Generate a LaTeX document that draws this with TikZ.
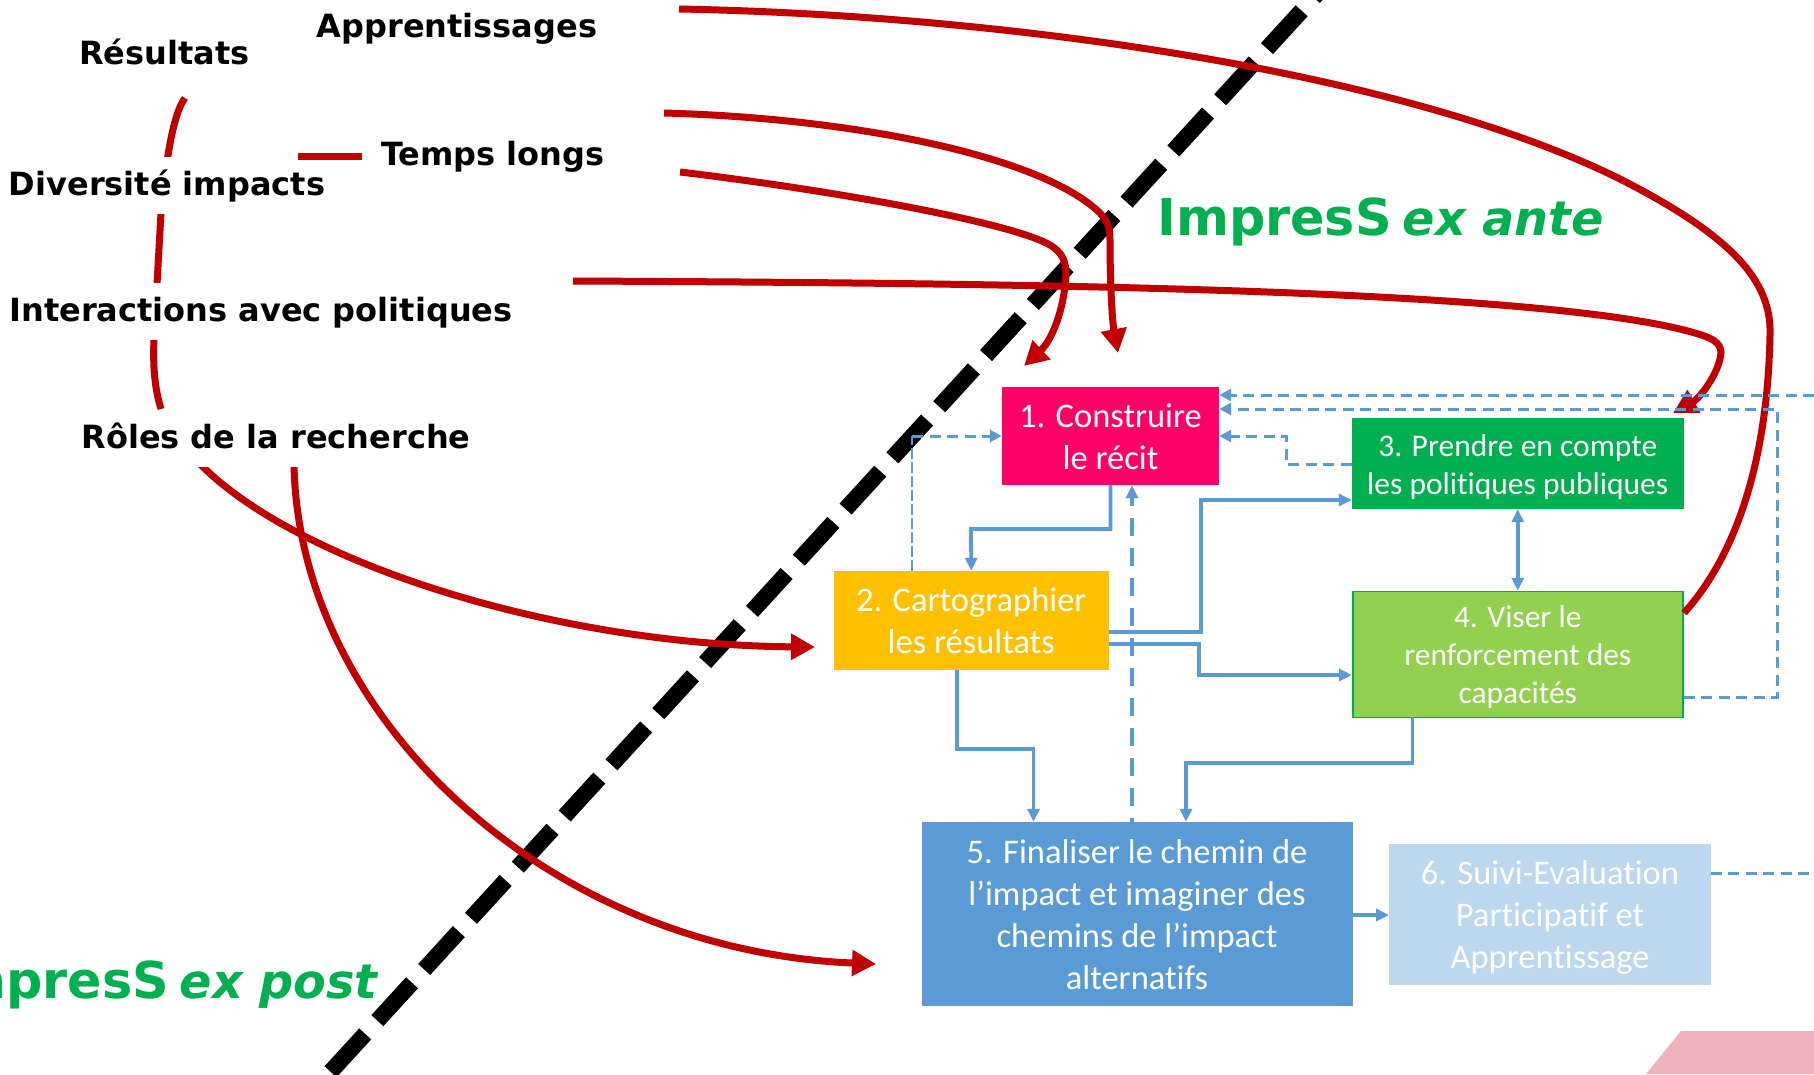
\documentclass[tikz,border=0pt]{standalone}
\usepackage{fontspec}
\setmainfont[Ligatures=NoCommon]{Carlito}
\newfontfamily\lab{DejaVu Sans}[BoldFont={DejaVu Sans Bold},BoldItalicFont={DejaVu Sans Bold Oblique}]
\usetikzlibrary{arrows.meta,calc}
\definecolor{rd}{HTML}{C00000}
\definecolor{bl}{HTML}{5B9BD5}
\definecolor{gn}{HTML}{00B050}
\newcommand{\upr}[1]{\rule{0pt}{#1pt}}
\newcommand{\bigsz}{\fontsize{50.8}{52}\selectfont}
\newcommand{\itsz}{\itshape\fontsize{47.7}{52}\selectfont}
\tikzset{
  x=1pt,y=-1pt,
  box/.style={rectangle,inner sep=0pt,align=center,text=white,font=\fontsize{34.5}{42}\selectfont},
  boxs/.style={box,font=\fontsize{31.5}{38}\selectfont},
  lbl/.style={fill=white,inner sep=0pt,minimum height=57pt,font=\lab\bfseries\fontsize{32}{34}\selectfont,text height=27pt,text depth=6pt},
  redl/.style={draw=rd,line width=7pt},
  redar/.style={redl,-{Triangle[length=24pt,width=25pt]}},
  blu/.style={draw=bl,line width=3.8pt,-{Triangle[length=13pt,width=12pt]}},
  blt/.style={draw=bl,line width=3.5pt,-{Triangle[length=13pt,width=12pt]}},
  dsh/.style={draw=bl,line width=3pt,dash pattern=on 11pt off 6.5pt,-{Triangle[length=12pt,width=12pt]}},
  dshl/.style={draw=bl,line width=3pt,dash pattern=on 11pt off 6.5pt},
  bigd/.style={draw=bl,line width=3.5pt,dash pattern=on 18pt off 12pt,dash phase=14pt,-{Triangle[length=13pt,width=12pt]}}
}
\begin{document}
\begin{tikzpicture}
\useasboundingbox (0,0) rectangle (1814,1074);
\clip (0,0) rectangle (1814,1074);
\fill[fill=white] (0,0) rectangle (1814,1074);
% pink shape
\fill[fill={rgb,255:red,239;green,180;blue,187}] (1681,1031) -- (1814,1031) -- (1814,1074) -- (1646,1074) -- cycle;
% black diagonal
\coordinate (dg1) at (1348.1,-40);
\coordinate (dg2) at (328.5,1074);
\draw[black,line width=16.3pt,dash pattern=on 51.35pt off 18pt,dash phase=0.55pt] (dg1) -- (dg2);
% boxes
\node[box,fill={rgb,255:red,255;green,0;blue,102},minimum width=217pt,minimum height=98.5pt] (b1) at (1110.5,435.75) {\upr{25}1. Construire\\le récit};
\node[box,fill={rgb,255:red,255;green,192;blue,0},minimum width=274.5pt,minimum height=99pt] (b2) at (971.25,620.5) {2. Cartographier\\les résultats};
\node[boxs,fill=gn,minimum width=331.5pt,minimum height=91pt] (b3) at (1517.75,463.5) {\upr{29}3. Prendre en compte\\les politiques publiques};
\node[boxs,fill={rgb,255:red,146;green,208;blue,80},draw=gn,line width=1.5pt,minimum width=330pt,minimum height=126pt] (b4) at (1517.75,654.5) {\upr{28}4. Viser le\\renforcement des\\capacités};
\node[box,fill=bl,minimum width=431pt,minimum height=184pt] (b5) at (1137,914) {\upr{25}5. Finaliser le chemin de\\l’impact et imaginer des\\chemins de l’impact\\alternatifs};
\node[box,fill={rgb,255:red,189;green,215;blue,238},minimum width=321.5pt,minimum height=141pt] (b6) at (1550,914.5) {\upr{30}6. Suivi-Evaluation\\Participatif et\\Apprentissage};
% free ends of the red curves
\coordinate (rA) at (679,9);
\coordinate (rT1) at (664,113);
\coordinate (rT2) at (680,172);
\coordinate (rI) at (573,281);
\coordinate (rR1) at (200,464);
\coordinate (rR2) at (294,464);
\coordinate (t1) at (1118,353);
\coordinate (t2) at (1024,366);
\coordinate (t3) at (1673,413);
\coordinate (t4) at (815,647);
\coordinate (t5) at (876,964);
\coordinate (e4) at (1684,613);
\coordinate (brT) at (185,98);
\coordinate (brB) at (161,409);
\coordinate (tl) at (298,156);
% red curves
\draw[redl] (rA) .. controls (1000,15) and (1400,70) .. (1620,179) .. controls (1730,235) and (1772,280) .. (1770,335) .. controls (1768,440) and (1745,545) .. (e4);
\draw[redar] (rT1) .. controls (850,118) and (1040,155) .. (1100,213) .. controls (1108,222) and (1110,228) .. (1110,240) .. controls (1110,280) and (1112,320) .. (t1);
\draw[redar] (rT2) .. controls (830,190) and (1010,222) .. (1050,245) .. controls (1063,253) and (1066,262) .. (1066,275) .. controls (1064,310) and (1052,340) .. (t2);
\draw[redar] (rI) .. controls (1000,283) and (1540,288) .. (1695,333) .. controls (1712,338) and (1720,342) .. (1721,352) .. controls (1720,372) and (1700,398) .. (t3);
\draw[redar] (rR1) .. controls (300,565) and (560,645) .. (t4);
\draw[redar] (rR2) .. controls (298,715) and (545,950) .. (t5);
\draw[redl] (brT) .. controls (172,115) and (165,170) .. (161,213) -- (155,320) .. controls (153,350) and (152,380) .. (brB);
% labels
\node[lbl] (lR) at (164.5,54) {Résultats};
\node[lbl] (lA) at (457,27) {Apprentissages};
\node[lbl,inner xsep=19pt] (lT) at (493,155) {Temps longs};
\node[lbl] (lD) at (167,185) {Diversité impacts};
\node[lbl] (lI) at (261,311) {Interactions avec politiques};
\node[lbl] (lO) at (276,438) {Rôles de la recherche};
\draw[redl] (tl) -- (lT.west |- tl);
\node[anchor=base west,text=gn,font=\lab\bfseries,inner sep=0pt] (ante) at (1157,235) {{\bigsz ImpresS}\hspace{11pt}{\itsz ex ante}};
\node[anchor=base east,text=gn,font=\lab\bfseries,inner sep=0pt] (post) at (378,998) {{\bigsz ImpresS}\hspace{11pt}{\itsz ex post}};
% blue connectors
\coordinate (c12) at (971,529);
\draw[blu] (b1.south) |- (c12) -- (b2.north);
\coordinate (c23a) at (1201,632);
\coordinate (c23b) at (1201,500);
\draw[blu] (b2.east |- c23a) -- (c23a) -- (c23b) -- (b3.west |- c23b);
\coordinate (c24a) at (1199,644);
\coordinate (c24b) at (1199,675);
\draw[blu] (b2.east |- c24a) -- (c24a) -- (c24b) -- (b4.west |- c24b);
\draw[blt,{Triangle[length=13pt,width=12pt]}-{Triangle[length=13pt,width=12pt]}] (b3.south) -- (b4.north);
\coordinate (c25a) at (957,749);
\coordinate (c25b) at (1033.5,749);
\draw[blt] (b2.south -| c25a) -- (c25a) -- (c25b) -- (c25b |- b5.north);
\coordinate (c45a) at (1412.5,763);
\coordinate (c45b) at (1186,763);
\draw[blt] (b4.south -| c45a) -- (c45a) -- (c45b) -- (c45b |- b5.north);
\coordinate (c56) at (1370,915);
\draw[blu] (b5.east |- c56) -- (b6.west |- c56);
\coordinate (c51) at (1132,700);
\draw[bigd] (c51 |- b5.north) -- (c51 |- b1.south);
\coordinate (eR) at (1814,395);
\draw[dsh] (eR) -- (b1.east |- eR);
\coordinate (d4a) at (1777,697);
\coordinate (d4b) at (1777,409);
\draw[dsh] (b4.east |- d4a) -- (d4a) -- (d4b) -- (b1.east |- d4b);
\coordinate (d3a) at (1286,464);
\coordinate (d3b) at (1286,436);
\draw[dsh] (b3.west |- d3a) -- (d3a) -- (d3b) -- (b1.east |- d3b);
\coordinate (d2) at (912,436);
\draw[dshl,line width=2.2pt,dash pattern=on 11pt off 3pt] (d2 |- b2.north) -- (d2);
\draw[dsh] (d2) -- (b1.west |- d2);
\coordinate (eS) at (1814,873);
\draw[dshl] (b6.east |- eS) -- (eS);
\end{tikzpicture}
\end{document}
